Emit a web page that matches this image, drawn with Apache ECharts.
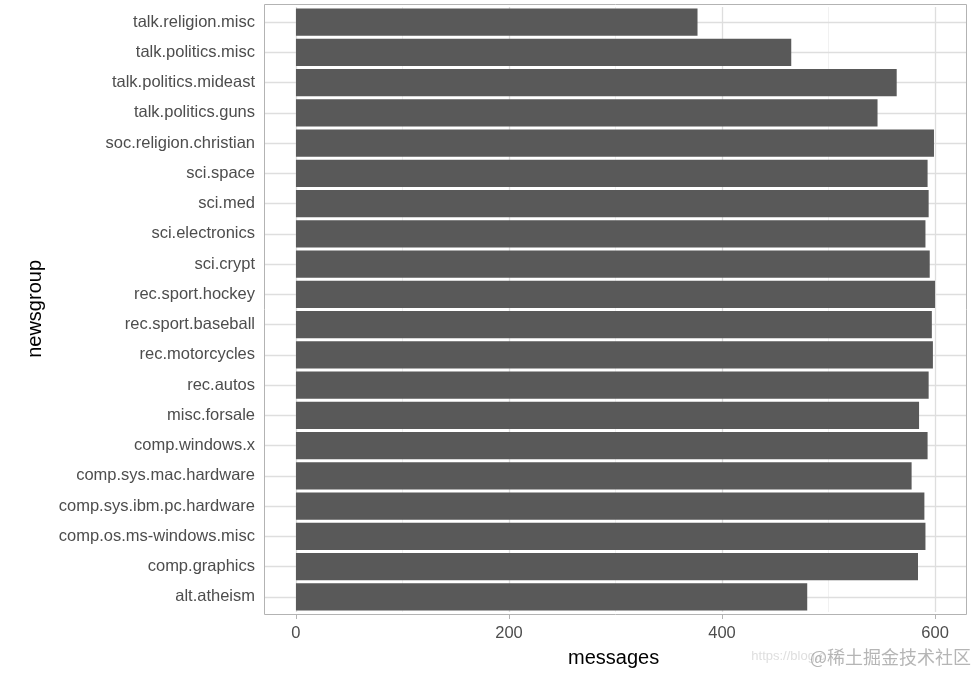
<!DOCTYPE html>
<html><head><meta charset="utf-8">
<script src="https://cdn.jsdelivr.net/npm/echarts@6/dist/echarts.min.js"></script>
<style>html,body{margin:0;padding:0;background:#fff}#c{width:975px;height:677px}</style>
</head><body><div id="c"></div>
<script>
var categories = ['alt.atheism','comp.graphics','comp.os.ms-windows.misc','comp.sys.ibm.pc.hardware','comp.sys.mac.hardware','comp.windows.x','misc.forsale','rec.autos','rec.motorcycles','rec.sport.baseball','rec.sport.hockey','sci.crypt','sci.electronics','sci.med','sci.space','soc.religion.christian','talk.politics.guns','talk.politics.mideast','talk.politics.misc','talk.religion.misc'];
var messages = [480,584,591,590,578,593,585,594,598,597,600,595,591,594,593,599,546,564,465,377];
var xTicks = [0,200,400,600];
var xMinor = [100,300,500];

var chart = echarts.init(document.getElementById('c'));
var vLines = xTicks.map(function(v){return {xAxis:v, lineStyle:{color:'#DEDEDE', width:1.3, type:'solid'}};})
  .concat(xMinor.map(function(v){return {xAxis:v, lineStyle:{color:'#EDEDED', width:0.8, type:'solid'}};}));
var hLines = categories.map(function(c){return {yAxis:c, lineStyle:{color:'#DEDEDE', width:1.3, type:'solid'}};});
var FF = 'Liberation Sans, Arial, sans-serif';
chart.setOption({
  animation:false,
  textStyle:{fontFamily:FF},
  graphic:[
    {type:'rect', shape:{x:264.5,y:4.5,width:702,height:610}, style:{fill:'none',stroke:'#B3B3B3',lineWidth:1}, z:10},
    {type:'text', left:568, top:648, style:{text:'messages', fontSize:20, fill:'#000', fontFamily:FF}},
    {type:'text', left:25, top:260, rotation:Math.PI/2, style:{text:'newsgroup', fontSize:20, fill:'#000', fontFamily:FF}, originX:0, originY:0},
    {type:'text', right:150, top:650, style:{text:'https://blog.c', fontSize:13, fill:'rgba(200,200,200,0.6)', fontFamily:FF}},
    {type:'text', right:4, top:648, style:{text:'@稀土掘金技术社区', fontSize:18, fill:'rgba(150,150,150,0.7)', fontFamily:'Noto Sans CJK SC'}}
  ],
  grid:{left:264, right:8, top:7, bottom:65, containLabel:false},
  xAxis:{type:'value', min:-30, max:630, offset:3,
    axisLine:{show:false},
    axisTick:{show:true, length:4, lineStyle:{color:'#B3B3B3'}, customValues:xTicks},
    axisLabel:{customValues:xTicks, color:'#4D4D4D', fontSize:16.5, margin:10},
    splitLine:{show:false}},
  yAxis:{type:'category', data:categories,
    axisLine:{show:false},
    axisTick:{show:true, alignWithLabel:true, length:5, lineStyle:{color:'#B3B3B3'}},
    axisLabel:{interval:0, color:'#4D4D4D', fontSize:16.5, margin:9},
    splitLine:{show:false}},
  series:[{
    type:'bar', data:messages, barWidth:'90%', itemStyle:{color:'#595959'}, z:2,
    markLine:{silent:true, symbol:'none', z:1, label:{show:false}, data:vLines.concat(hLines)}
  }]
});
</script></body></html>
